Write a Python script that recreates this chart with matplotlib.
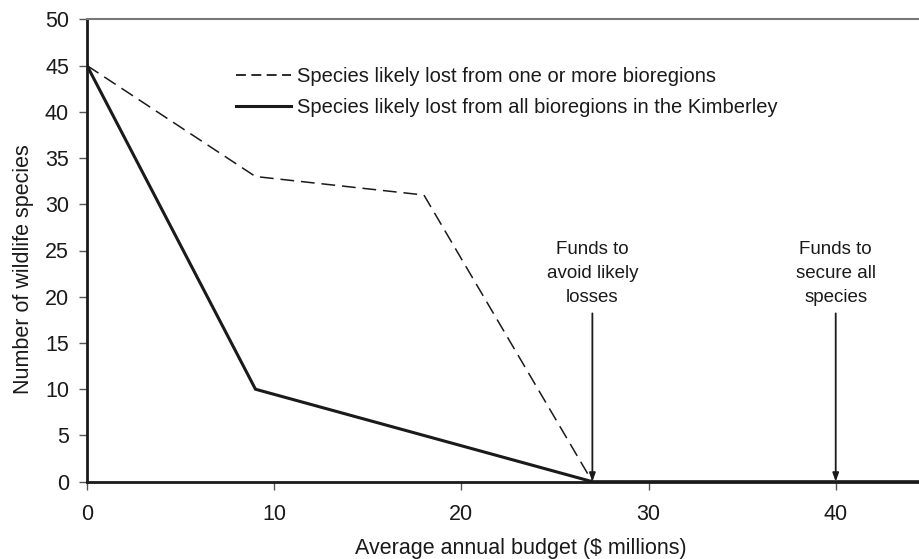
import matplotlib
matplotlib.use("Agg")
import matplotlib.pyplot as plt
from matplotlib.lines import Line2D

plt.rcParams['font.family'] = ['Liberation Sans', 'DejaVu Sans']

budget = [0, 9, 18, 27, 45]
lost_one_or_more = [45, 33, 31, 0, 0]
budget_all = [0, 9, 27, 45]
lost_all = [45, 10, 0, 0]
label_dashed = "Species likely lost from one or more bioregions"
label_solid = "Species likely lost from all bioregions in the Kimberley"
annot_x = [27, 40]
annot_text = ["Funds to\navoid likely\nlosses", "Funds to\nsecure all\nspecies"]
xticks = [0, 10, 20, 30, 40]
yticks = list(range(0, 51, 5))

fig = plt.figure(figsize=(9.19, 5.59), dpi=100)
ax = fig.add_axes([87/919, 1-481.7/559, 1-87/919, (481.7-19.3)/559])

ax.plot(budget, lost_one_or_more, color='#1a1a1a', lw=1.1, ls=(0, (9, 4.5)))
ax.plot(budget_all, lost_all, color='#1a1a1a', lw=2.2, solid_joinstyle='miter')

for xa, t in zip(annot_x, annot_text):
    ax.annotate('', xy=(xa, 0), xytext=(xa, 18.2),
                arrowprops=dict(arrowstyle='-|>,head_length=0.5,head_width=0.18',
                                color='#1a1a1a', lw=1.3, shrinkA=0, shrinkB=0))
    ax.text(xa, 22.5, t, ha='center', va='center', fontsize=13.5,
            linespacing=1.55, color='#1a1a1a')

ax.set_xlim(0, 44.45)
ax.set_ylim(0, 50)
ax.set_xticks(xticks)
ax.set_yticks(yticks)
ax.tick_params(axis='both', direction='out', length=6, width=1, color='#555555',
               labelsize=15.5, labelcolor='#1a1a1a')
ax.tick_params(axis='x', pad=10)
ax.tick_params(axis='y', pad=7)

ax.spines['right'].set_visible(False)
ax.spines['top'].set_color('#777777')
ax.spines['top'].set_linewidth(1.5)
ax.spines['left'].set_color('#1a1a1a')
ax.spines['left'].set_linewidth(2)
ax.spines['bottom'].set_color('#1a1a1a')
ax.spines['bottom'].set_linewidth(2)

ax.set_xlabel("Average annual budget ($ millions)", fontsize=15.5, color='#1a1a1a')
ax.set_ylabel("Number of wildlife species", fontsize=15.5, color='#1a1a1a')
ax.xaxis.set_label_coords(0.5216, -(538 - 481.7) / 462.4)
ax.xaxis.label.set_va('top')
ax.yaxis.set_label_coords(-(87 - 34) / 832, 0.46)

handles = [Line2D([], [], color='#1a1a1a', lw=1.3, ls=(0, (5.5, 3))),
           Line2D([], [], color='#1a1a1a', lw=2.2)]
leg = ax.legend(handles, [label_dashed, label_solid], frameon=False, fontsize=14.5,
                loc='upper left', bbox_to_anchor=(236/919 - 0.004, 1 - 63/559),
                bbox_transform=fig.transFigure, handlelength=2.7, handletextpad=0.3,
                labelspacing=0.6, borderaxespad=0, borderpad=0.2)
for t in leg.get_texts():
    t.set_color('#1a1a1a')

fig.savefig("out.png", dpi=100)
